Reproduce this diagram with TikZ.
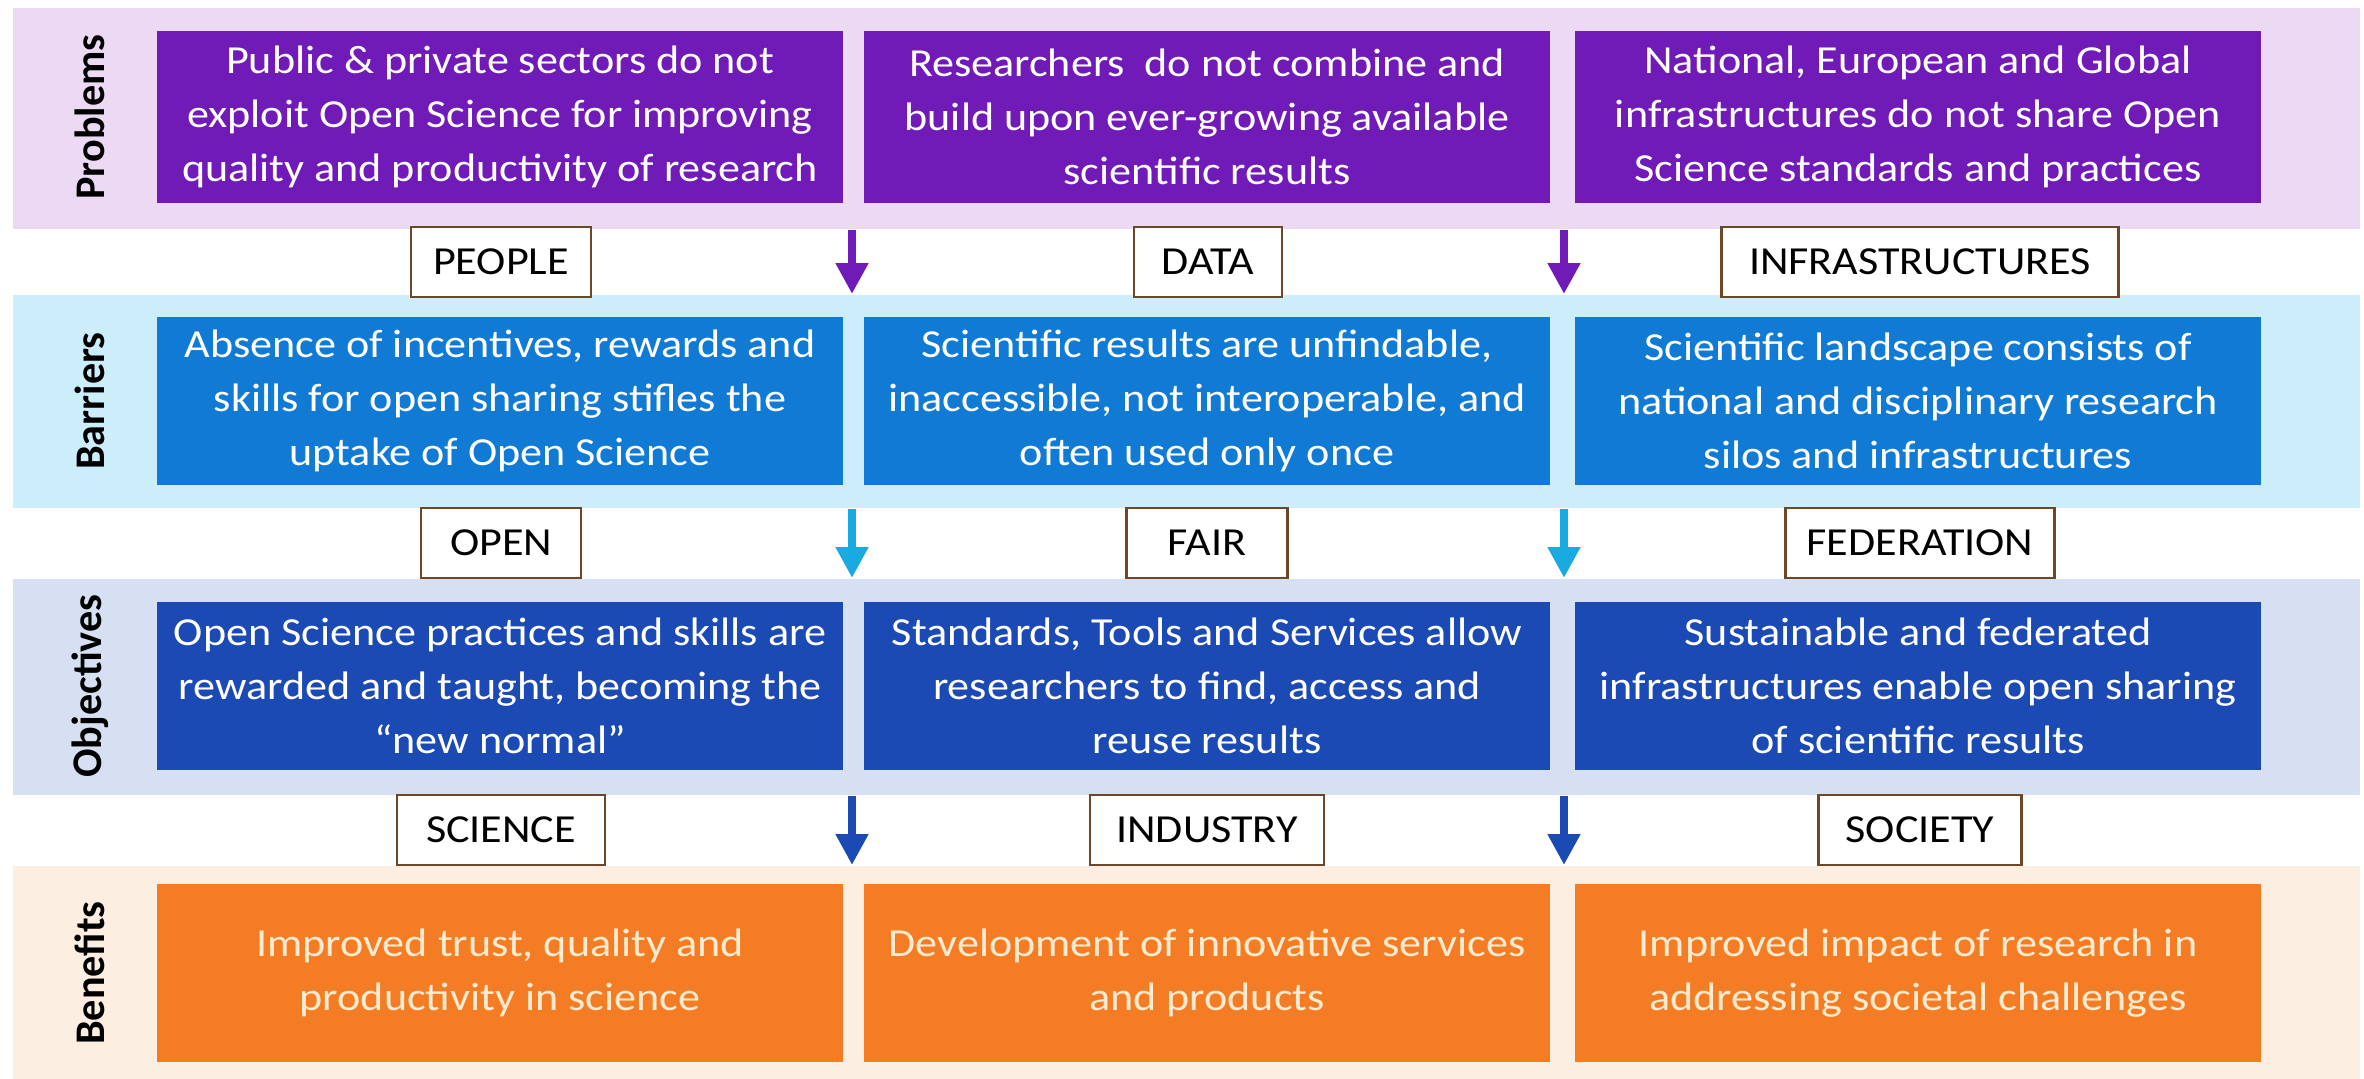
\documentclass[tikz,border=0pt]{standalone}
\usepackage{fontspec}
\setmainfont{Carlito}[FakeStretch=1.11]
\newfontfamily\sidefont{Carlito}
\usetikzlibrary{arrows.meta}

\definecolor{probband}{RGB}{236,218,245}
\definecolor{probbox}{RGB}{112,26,184}
\definecolor{barrband}{RGB}{204,238,250}
\definecolor{barrbox}{RGB}{17,122,212}
\definecolor{objband}{RGB}{214,224,242}
\definecolor{objbox}{RGB}{28,74,180}
\definecolor{beneband}{RGB}{252,238,225}
\definecolor{benebox}{RGB}{244,124,36}
\definecolor{barrarrow}{RGB}{26,170,226}
\definecolor{tagline}{RGB}{110,70,40}
\definecolor{cream}{RGB}{255,236,208}

\begin{document}
\begin{tikzpicture}[x=0.01cm, y=-0.01cm,
  band/.style={fill=#1, inner sep=0pt, anchor=north west, minimum width=23.46cm},
  box/.style={fill=#1, text=white, inner sep=0pt, minimum width=6.86cm, align=center,
    font=\fontsize{11.3}{15.3}\selectfont},
  tag/.style={draw=tagline, line width=0.8pt, fill=white, inner sep=0pt,
    minimum height=0.70cm, font=\fontsize{11.3}{13}\selectfont},
  side/.style={rotate=90, font=\fontsize{12}{14}\sidefont\bfseries},
  arr/.style={draw=#1, line width=2.3pt, -{Triangle[width=8.8pt,length=8.8pt]}}]

  \useasboundingbox (0,0) rectangle (2364,1078);

  % background bands of the four rows
  \node[band=probband, minimum height=2.21cm] (probBand) at (12,7) {};
  \node[band=barrband, minimum height=2.13cm] (barrBand) at (12,294) {};
  \node[band=objband, minimum height=2.16cm] (objBand) at (12,578) {};
  \node[band=beneband, minimum height=2.13cm] (beneBand) at (12,865) {};

  % row titles
  \node[side] (sProb) at (90,117) {Problems};
  \node[side] (sBarr) at (90,401) {Barriers};
  \node[side] (sObj) at (90,686) {Objectives};
  \node[side] (sBene) at (90,973) {Benefits};

  % Problems
  \node[box=probbox, minimum height=1.71cm] (prob1) at (500,117)
    {Public \& private sectors do not\\exploit Open Science for improving\\quality and productivity of research};
  \node[box=probbox, minimum height=1.71cm] (prob2) at (1207,117)
    {Researchers\ \ do not combine and\\build upon ever-growing available\\scientific results};
  \node[box=probbox, minimum height=1.71cm] (prob3) at (1918,117)
    {National, European and Global\\infrastructures do not share Open\\Science standards and practices};

  % Barriers
  \node[box=barrbox, minimum height=1.67cm] (barr1) at (500,401)
    {Absence of incentives, rewards and\\skills for open sharing stifles the\\uptake of Open Science};
  \node[box=barrbox, minimum height=1.67cm] (barr2) at (1207,401)
    {Scientific results are unfindable,\\inaccessible, not interoperable, and\\often used only once};
  \node[box=barrbox, minimum height=1.67cm] (barr3) at (1918,401)
    {Scientific landscape consists of\\national and disciplinary research\\silos and infrastructures};

  % Objectives
  \node[box=objbox, minimum height=1.67cm] (obj1) at (500,686)
    {Open Science practices and skills are\\rewarded and taught, becoming the\\“new normal”};
  \node[box=objbox, minimum height=1.67cm] (obj2) at (1207,686)
    {Standards, Tools and Services allow\\researchers to find, access and\\reuse results};
  \node[box=objbox, minimum height=1.67cm] (obj3) at (1918,686)
    {Sustainable and federated\\infrastructures enable open sharing\\of scientific results};

  % Benefits
  \node[box=benebox, text=cream, minimum height=1.77cm] (bene1) at (500,973)
    {Improved trust, quality and\\productivity in science};
  \node[box=benebox, text=cream, minimum height=1.77cm] (bene2) at (1207,973)
    {Development of innovative services\\and products};
  \node[box=benebox, text=cream, minimum height=1.77cm] (bene3) at (1918,973)
    {Improved impact of research in\\addressing societal challenges};

  % tags between the rows
  \node[tag, minimum width=1.80cm] (people) at (501,262) {PEOPLE};
  \node[tag, minimum width=1.48cm] (data) at (1208,262) {DATA};
  \node[tag, minimum width=3.97cm] (infra) at (1920,262) {INFRASTRUCTURES};
  \node[tag, minimum width=1.60cm] (open) at (501,543) {OPEN};
  \node[tag, minimum width=1.61cm] (fair) at (1207,543) {FAIR};
  \node[tag, minimum width=2.69cm] (fed) at (1920,543) {FEDERATION};
  \node[tag, minimum width=2.08cm] (science) at (501,830) {SCIENCE};
  \node[tag, minimum width=2.34cm] (industry) at (1207,830) {INDUSTRY};
  \node[tag, minimum width=2.03cm] (society) at (1920,830) {SOCIETY};

  % arrows in the gaps between the columns
  \coordinate (gapA) at (852,0);
  \coordinate (gapB) at (1564,0);
  \draw[arr=probbox] (probBand.south -| gapA) -- (barrBand.north -| gapA);
  \draw[arr=probbox] (probBand.south -| gapB) -- (barrBand.north -| gapB);
  \draw[arr=barrarrow] (barrBand.south -| gapA) -- (objBand.north -| gapA);
  \draw[arr=barrarrow] (barrBand.south -| gapB) -- (objBand.north -| gapB);
  \draw[arr=objbox] (objBand.south -| gapA) -- (beneBand.north -| gapA);
  \draw[arr=objbox] (objBand.south -| gapB) -- (beneBand.north -| gapB);

\end{tikzpicture}
\end{document}
